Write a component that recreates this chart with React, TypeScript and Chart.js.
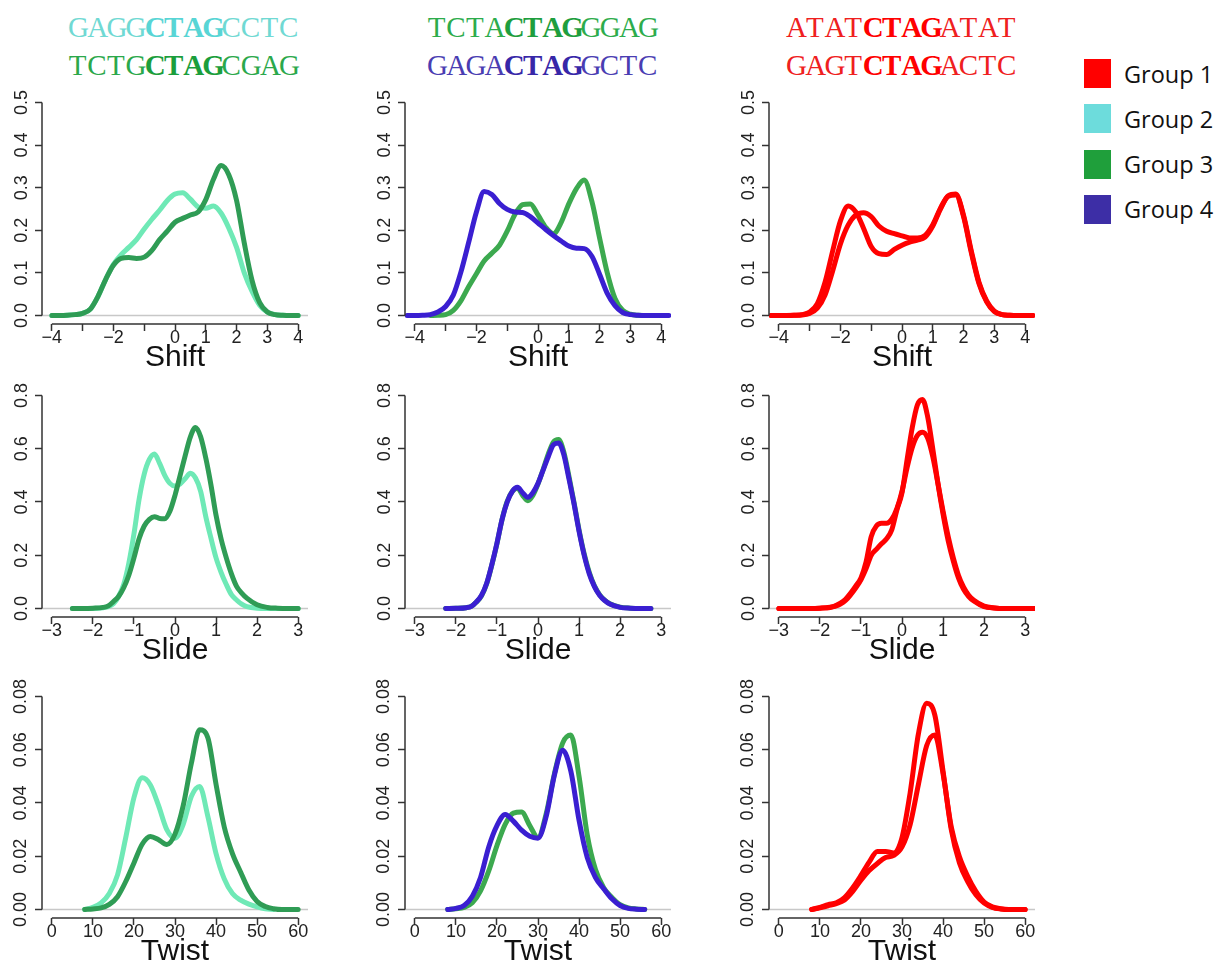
import React, { useEffect, useRef } from "react";
import { Chart, registerables } from "chart.js";

Chart.register(...registerables);

const SANS = '"Liberation Sans", Arial, Helvetica, sans-serif';

// ---- grids of evaluation points ----
const shiftX = [-4.25, -4, -3.75, -3.5, -3.25, -3, -2.75, -2.5, -2.25, -2, -1.75, -1.5, -1.25, -1, -0.75, -0.5, -0.25, 0, 0.25, 0.5, 0.75, 1, 1.25, 1.5, 1.75, 2, 2.25, 2.5, 2.75, 3, 3.25, 3.5, 3.75, 4, 4.25];
const slideX = [-3, -2.5, -2.25, -2, -1.75, -1.625, -1.5, -1.375, -1.25, -1.125, -1, -0.875, -0.75, -0.625, -0.5, -0.375, -0.25, -0.125, 0, 0.125, 0.25, 0.375, 0.5, 0.625, 0.75, 0.875, 1, 1.125, 1.25, 1.375, 1.5, 1.625, 1.75, 2, 2.25, 2.5, 2.75, 3, 3.25];
const twistX = [8, 10, 12, 14, 16, 18, 20, 22, 24, 26, 28, 30, 32, 34, 36, 38, 40, 42, 44, 46, 48, 50, 52, 54, 56, 58, 60];

// ---- Shift densities ----
const shiftGAGG = [null, 0, 0, 0.0005, 0.002, 0.005, 0.015, 0.045, 0.085, 0.12, 0.143, 0.16, 0.178, 0.203, 0.226, 0.247, 0.27, 0.285, 0.288, 0.273, 0.255, 0.252, 0.257, 0.24, 0.205, 0.16, 0.1, 0.057, 0.024, 0.008, 0.002, 0.0005, 0, 0, null];
const shiftTCTG = [null, 0, 0, 0.0005, 0.002, 0.005, 0.015, 0.045, 0.085, 0.118, 0.134, 0.136, 0.134, 0.137, 0.153, 0.178, 0.198, 0.219, 0.228, 0.236, 0.243, 0.272, 0.32, 0.352, 0.33, 0.27, 0.17, 0.083, 0.03, 0.008, 0.002, 0.0005, 0, 0, null];
const shiftTCTA = [null, null, null, 0, 0.0005, 0.002, 0.012, 0.035, 0.068, 0.098, 0.128, 0.146, 0.165, 0.198, 0.237, 0.26, 0.262, 0.236, 0.207, 0.192, 0.218, 0.262, 0.298, 0.318, 0.268, 0.182, 0.1, 0.04, 0.012, 0.003, 0.0005, 0, null, null, null];
const shiftGAGA = [0, 0, 0.0005, 0.002, 0.008, 0.021, 0.048, 0.103, 0.172, 0.243, 0.291, 0.284, 0.263, 0.249, 0.243, 0.242, 0.232, 0.217, 0.202, 0.188, 0.175, 0.163, 0.158, 0.157, 0.139, 0.097, 0.052, 0.023, 0.007, 0.002, 0.0005, 0, 0, 0, 0];
const shiftATAT = [0, 0, 0, 0.0005, 0.002, 0.008, 0.028, 0.078, 0.152, 0.222, 0.257, 0.243, 0.205, 0.162, 0.145, 0.143, 0.155, 0.165, 0.172, 0.177, 0.184, 0.21, 0.25, 0.28, 0.283, 0.232, 0.148, 0.075, 0.032, 0.009, 0.002, 0.0005, 0, 0, 0];
const shiftGAGT = [0, 0, 0, 0.0003, 0.001, 0.005, 0.017, 0.048, 0.105, 0.168, 0.212, 0.236, 0.241, 0.232, 0.21, 0.198, 0.192, 0.187, 0.182, 0.182, 0.188, 0.213, 0.252, 0.281, 0.285, 0.235, 0.152, 0.078, 0.034, 0.01, 0.002, 0.0005, 0, 0, 0];

// ---- Slide densities ----
const slideGAGG = [null, 0, 0, 0, 0.003, 0.007, 0.018, 0.045, 0.09, 0.17, 0.28, 0.41, 0.505, 0.56, 0.58, 0.545, 0.5, 0.47, 0.46, 0.468, 0.488, 0.508, 0.49, 0.44, 0.345, 0.265, 0.19, 0.135, 0.09, 0.052, 0.032, 0.016, 0.007, 0.001, 0, 0, 0, 0, null];
const slideTCTG = [null, 0, 0, 0.001, 0.004, 0.01, 0.026, 0.045, 0.078, 0.125, 0.19, 0.262, 0.31, 0.335, 0.345, 0.338, 0.337, 0.365, 0.425, 0.5, 0.575, 0.645, 0.68, 0.645, 0.565, 0.465, 0.35, 0.26, 0.19, 0.13, 0.083, 0.058, 0.039, 0.014, 0.004, 0.001, 0, 0, null];
const slideTCTA = [null, null, 0, 0.0005, 0.003, 0.008, 0.024, 0.048, 0.093, 0.163, 0.243, 0.335, 0.402, 0.44, 0.452, 0.425, 0.405, 0.425, 0.468, 0.522, 0.58, 0.625, 0.635, 0.59, 0.5, 0.4, 0.295, 0.205, 0.135, 0.085, 0.052, 0.031, 0.018, 0.005, 0.001, 0, 0, null, null];
const slideGAGA = [null, null, 0, 0.0005, 0.003, 0.008, 0.025, 0.05, 0.095, 0.165, 0.245, 0.335, 0.4, 0.44, 0.455, 0.435, 0.418, 0.435, 0.47, 0.52, 0.57, 0.615, 0.622, 0.58, 0.49, 0.395, 0.29, 0.2, 0.13, 0.082, 0.05, 0.03, 0.017, 0.004, 0.001, 0, 0, null, null];
const slideATAT = [0, 0, 0, 0.001, 0.004, 0.009, 0.017, 0.03, 0.052, 0.078, 0.108, 0.15, 0.2, 0.222, 0.243, 0.262, 0.295, 0.37, 0.435, 0.56, 0.68, 0.765, 0.785, 0.72, 0.6, 0.47, 0.355, 0.255, 0.178, 0.115, 0.072, 0.045, 0.028, 0.007, 0.002, 0, 0, 0, 0];
const slideGAGT = [0, 0, 0, 0.001, 0.005, 0.01, 0.02, 0.035, 0.058, 0.085, 0.115, 0.175, 0.27, 0.31, 0.32, 0.32, 0.335, 0.375, 0.44, 0.53, 0.605, 0.65, 0.662, 0.64, 0.57, 0.47, 0.365, 0.27, 0.19, 0.125, 0.08, 0.05, 0.031, 0.009, 0.002, 0, 0, 0, 0];

// ---- Twist densities ----
const twistGAGG = [0, 0.0008, 0.0025, 0.006, 0.013, 0.027, 0.042, 0.0495, 0.0468, 0.039, 0.03, 0.0268, 0.032, 0.0425, 0.0462, 0.035, 0.021, 0.0115, 0.006, 0.0035, 0.002, 0.001, 0.0003, 0, null, null, null];
const twistTCTG = [0, 0.0002, 0.0006, 0.0019, 0.0048, 0.0105, 0.0175, 0.0245, 0.0274, 0.0262, 0.0244, 0.0283, 0.039, 0.055, 0.0675, 0.0645, 0.047, 0.031, 0.021, 0.014, 0.0073, 0.003, 0.0011, 0.0003, 0, 0, 0];
const twistTCTA = [0, 0.0003, 0.0008, 0.0025, 0.007, 0.0145, 0.024, 0.032, 0.0362, 0.0366, 0.0315, 0.027, 0.036, 0.051, 0.0625, 0.0655, 0.05, 0.028, 0.015, 0.0082, 0.0045, 0.0018, 0.0006, 0.0002, 0, null, null];
const twistGAGA = [0, 0.0004, 0.0015, 0.005, 0.012, 0.0235, 0.0315, 0.0357, 0.0332, 0.0298, 0.0275, 0.0268, 0.035, 0.0505, 0.0598, 0.052, 0.0335, 0.0195, 0.012, 0.0078, 0.004, 0.0015, 0.0004, 0.0001, 0, null, null];
const twistATAT = [0, 0.0008, 0.0018, 0.0025, 0.0045, 0.0082, 0.0128, 0.0178, 0.0218, 0.0218, 0.0212, 0.027, 0.044, 0.066, 0.0775, 0.073, 0.052, 0.03, 0.0175, 0.0105, 0.0055, 0.0024, 0.0008, 0.0002, 0, 0, 0];
const twistGAGT = [0, 0.0006, 0.0014, 0.0022, 0.0036, 0.0068, 0.011, 0.0146, 0.0173, 0.0195, 0.0203, 0.0235, 0.032, 0.047, 0.0615, 0.0655, 0.051, 0.031, 0.0198, 0.0125, 0.0068, 0.0028, 0.001, 0.0003, 0, 0, 0];

// ---- axis ticks ----
const shiftTicks = [-4, -3, -2, -1, 0, 1, 2, 3, 4];
const shiftTickLabels = ["\u22124", "", "\u22122", "", "0", "1", "2", "3", "4"];
const slideTicks = [-3, -2, -1, 0, 1, 2, 3];
const slideTickLabels = ["\u22123", "\u22122", "\u22121", "0", "1", "2", "3"];
const twistTicks = [0, 10, 20, 30, 40, 50, 60];
const twistTickLabels = ["0", "10", "20", "30", "40", "50", "60"];
const shiftYTicks = [0, 0.1, 0.2, 0.3, 0.4, 0.5];
const slideYTicks = [0, 0.2, 0.4, 0.6, 0.8];
const twistYTicks = [0, 0.02, 0.04, 0.06, 0.08];

// ---- header sequences and legend ----
const headerSeqs = [
  [["GAGG", "CTAG", "CCTC"], ["TCTG", "CTAG", "CGAG"]],
  [["TCTA", "CTAG", "GGAG"], ["GAGA", "CTAG", "GCTC"]],
  [["ATAT", "CTAG", "ATAT"], ["GAGT", "CTAG", "ACTC"]],
];
const legendLabels = ["Group 1", "Group 2", "Group 3", "Group 4"];

const C_RED = "#ff0000";
const C_MINT = "#6fe9b6";
const C_SEAGREEN = "#2f9c55";
const C_GREEN = "#3ca94f";
const C_BLUE = "#3a1fd1";
const legendColors = ["#ff0000", "#6ddcdc", "#1f9f3b", "#3d2ea6"];
const headerColors = [
  [["#70d9d3", "#58d5d5"], ["#2ba84b", "#1b9e3c"]],
  [["#2dac4c", "#1e9e3e"], ["#4a3db2", "#3727a8"]],
  [["#ef2020", "#ff0000"], ["#ef2020", "#ff0000"]],
];

const AXIS = "#333333";
const TICK_FONT = `18px ${SANS}`;

type Curve = { values: (number | null)[]; color: string };
type PanelSpec = {
  name: string;
  xs: number[];
  xMin: number;
  xMax: number;
  xTicks: number[];
  xLabels: string[];
  yMin: number;
  yMax: number;
  yTicks: number[];
  yDigits: number;
  yLabelX: number;
  curves: Curve[];
};

const shiftBase = { name: "Shift", xs: shiftX, xMin: -4.32, xMax: 4.32, xTicks: shiftTicks, xLabels: shiftTickLabels, yMin: -0.02, yMax: 0.52, yTicks: shiftYTicks, yDigits: 1, yLabelX: 22 };
const slideBase = { name: "Slide", xs: slideX, xMin: -3.24, xMax: 3.24, xTicks: slideTicks, xLabels: slideTickLabels, yMin: -0.032, yMax: 0.832, yTicks: slideYTicks, yDigits: 1, yLabelX: 22 };
const twistBase = { name: "Twist", xs: twistX, xMin: -2.4, xMax: 62.4, xTicks: twistTicks, xLabels: twistTickLabels, yMin: -0.0032, yMax: 0.0832, yTicks: twistYTicks, yDigits: 2, yLabelX: 21 };

// rows: Shift, Slide, Twist; columns: three sequence sets
const panels: PanelSpec[][] = [
  [
    { ...shiftBase, curves: [{ values: shiftTCTG, color: C_SEAGREEN }, { values: shiftGAGG, color: C_MINT }] },
    { ...shiftBase, curves: [{ values: shiftGAGA, color: C_BLUE }, { values: shiftTCTA, color: C_GREEN }] },
    { ...shiftBase, curves: [{ values: shiftGAGT, color: C_RED }, { values: shiftATAT, color: C_RED }] },
  ],
  [
    { ...slideBase, curves: [{ values: slideTCTG, color: C_SEAGREEN }, { values: slideGAGG, color: C_MINT }] },
    { ...slideBase, curves: [{ values: slideGAGA, color: C_BLUE }, { values: slideTCTA, color: C_GREEN }] },
    { ...slideBase, curves: [{ values: slideGAGT, color: C_RED }, { values: slideATAT, color: C_RED }] },
  ],
  [
    { ...twistBase, curves: [{ values: twistTCTG, color: C_SEAGREEN }, { values: twistGAGG, color: C_MINT }] },
    { ...twistBase, curves: [{ values: twistGAGA, color: C_BLUE }, { values: twistTCTA, color: C_GREEN }] },
    { ...twistBase, curves: [{ values: twistGAGT, color: C_RED }, { values: twistATAT, color: C_RED }] },
  ],
];

const COL_LEFT = [0, 363, 727];
const ROW_TOP = [82, 375, 676];
const CANVAS_W = 322;
const CANVAS_H = 294;

// R-style axes: lines running only from the first to the last tick, with
// horizontal x labels and vertical (rotated) y labels placed from the scales
function makeAxisPlugin(spec: PanelSpec) {
  return {
    id: "rAxes",
    afterDraw(chart: any) {
      const { ctx, chartArea, scales } = chart;
      const xs = scales.x;
      const ys = scales.y;
      ctx.save();
      ctx.strokeStyle = AXIS;
      ctx.lineWidth = 1.5;
      ctx.beginPath();
      ctx.moveTo(xs.getPixelForValue(spec.xTicks[0]), chartArea.bottom);
      ctx.lineTo(xs.getPixelForValue(spec.xTicks[spec.xTicks.length - 1]), chartArea.bottom);
      ctx.moveTo(chartArea.left, ys.getPixelForValue(spec.yTicks[0]));
      ctx.lineTo(chartArea.left, ys.getPixelForValue(spec.yTicks[spec.yTicks.length - 1]));
      ctx.stroke();

      ctx.font = TICK_FONT;
      ctx.fillStyle = "#222";
      ctx.textAlign = "center";
      ctx.textBaseline = "middle";
      spec.xTicks.forEach((v, i) => {
        const label = spec.xLabels[i];
        if (label) ctx.fillText(label, xs.getPixelForValue(v), chartArea.bottom + 14);
      });
      spec.yTicks.forEach((v) => {
        ctx.save();
        ctx.translate(spec.yLabelX, ys.getPixelForValue(v));
        ctx.rotate(-Math.PI / 2);
        ctx.fillText(v.toFixed(spec.yDigits), 0, 0);
        ctx.restore();
      });
      ctx.restore();
    },
  };
}

function DensityPanel({ spec, left, top }: { spec: PanelSpec; left: number; top: number }) {
  const ref = useRef<HTMLCanvasElement>(null);

  useEffect(() => {
    const curveSets = spec.curves.map((c) => ({
      data: spec.xs
        .map((x, i) => ({ x, y: c.values[i] }))
        .filter((p) => p.y !== null),
      borderColor: c.color,
      borderWidth: 5,
      pointRadius: 0,
      fill: false,
      cubicInterpolationMode: "monotone" as const,
      borderJoinStyle: "round" as const,
      borderCapStyle: "round" as const,
    }));
    const zeroLine = {
      data: [
        { x: spec.xMin, y: 0 },
        { x: spec.xMax, y: 0 },
      ],
      borderColor: "#c8c8c8",
      borderWidth: 1.3,
      pointRadius: 0,
      fill: false,
    };

    const tickGrid = {
      display: true,
      drawOnChartArea: false,
      drawTicks: true,
      tickLength: 7,
      tickColor: AXIS,
      tickWidth: 1.5,
    };

    const chart = new Chart(ref.current as HTMLCanvasElement, {
      type: "line",
      data: { datasets: [...curveSets, zeroLine] as any },
      options: {
        animation: false,
        responsive: false,
        events: [],
        layout: { padding: { left: 0, top: 12, right: 14, bottom: 0 } },
        plugins: { legend: { display: false }, tooltip: { enabled: false } },
        scales: {
          x: {
            type: "linear",
            min: spec.xMin,
            max: spec.xMax,
            afterBuildTicks: (s: any) => {
              s.ticks = spec.xTicks.map((v) => ({ value: v }));
            },
            afterFit: (s: any) => {
              s.height = 52;
            },
            border: { display: false },
            grid: tickGrid,
            ticks: { display: false },
            title: {
              display: true,
              text: spec.name,
              color: "#111",
              font: { family: SANS, size: 30 },
              padding: 0,
            },
          },
          y: {
            type: "linear",
            min: spec.yMin,
            max: spec.yMax,
            afterBuildTicks: (s: any) => {
              s.ticks = spec.yTicks.map((v) => ({ value: v }));
            },
            afterFit: (s: any) => {
              s.width = 42;
            },
            border: { display: false },
            grid: tickGrid,
            ticks: { display: false },
          },
        },
      } as any,
      plugins: [makeAxisPlugin(spec)],
    });
    return () => chart.destroy();
  }, [spec]);

  return (
    <canvas
      ref={ref}
      width={CANVAS_W}
      height={CANVAS_H}
      style={{ position: "absolute", left, top, width: CANVAS_W, height: CANVAS_H }}
    />
  );
}

const CELL = 19.2;

function SeqLine({ parts, colors, left, top }: { parts: string[]; colors: string[]; left: number; top: number }) {
  const cells: React.ReactNode[] = [];
  parts.forEach((part, pi) => {
    const bold = pi === 1;
    part.split("").forEach((ch, ci) => {
      cells.push(
        <span
          key={`${pi}-${ci}`}
          style={{
            display: "inline-block",
            width: CELL,
            textAlign: "center",
            fontWeight: bold ? 700 : 400,
            color: bold ? colors[1] : colors[0],
          }}
        >
          {ch}
        </span>
      );
    });
  });
  return (
    <div
      style={{
        position: "absolute",
        left,
        top,
        whiteSpace: "nowrap",
        fontFamily: '"Liberation Serif", "Times New Roman", serif',
        fontSize: 29,
        lineHeight: "30px",
        height: 30,
      }}
    >
      {cells}
    </div>
  );
}

const HEADER_LEFT = [68, 427, 786];
const HEADER_TOP = [11.5, 49.5];

export default function App() {
  return (
    <div
      style={{
        position: "fixed",
        left: 0,
        top: 0,
        width: 1217,
        height: 965,
        overflow: "hidden",
        background: "#ffffff",
      }}
    >
      {headerSeqs.map((lines, col) =>
        lines.map((parts, li) => (
          <SeqLine
            key={`h-${col}-${li}`}
            parts={parts}
            colors={headerColors[col][li]}
            left={HEADER_LEFT[col]}
            top={HEADER_TOP[li]}
          />
        ))
      )}

      {panels.map((row, r) =>
        row.map((spec, c) => (
          <DensityPanel key={`p-${r}-${c}`} spec={spec} left={COL_LEFT[c]} top={ROW_TOP[r]} />
        ))
      )}

      {legendLabels.map((label, i) => (
        <div
          key={label}
          style={{ position: "absolute", left: 1084, top: 59 + i * 45.3, height: 29, display: "flex", alignItems: "center" }}
        >
          <div style={{ width: 27, height: 29, background: legendColors[i] }} />
          <span
            style={{
              marginLeft: 13,
              fontFamily: '"Open Sans", "Noto Sans", sans-serif',
              fontSize: 23.5,
              color: "#111",
              whiteSpace: "nowrap",
            }}
          >
            {label}
          </span>
        </div>
      ))}
    </div>
  );
}
